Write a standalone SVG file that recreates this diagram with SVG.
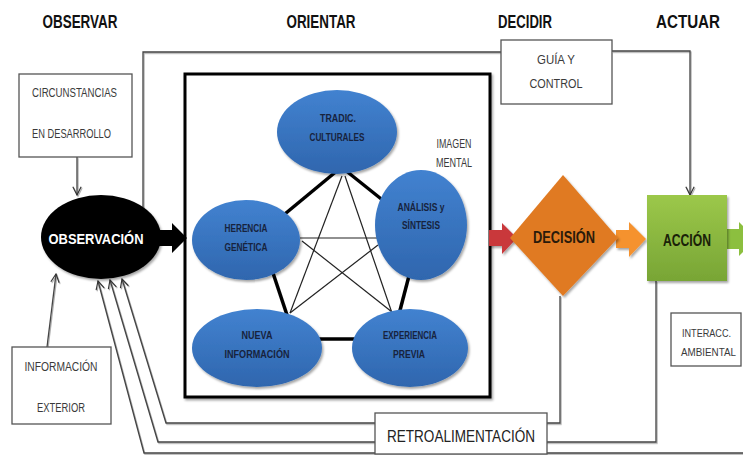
<svg xmlns="http://www.w3.org/2000/svg" width="743" height="455" viewBox="0 0 743 455">
<defs>
<style>
.title{font-family:"Liberation Sans",Arial,sans-serif;font-weight:bold;font-size:18px;fill:#111;text-anchor:middle}
.box{fill:#fff;stroke:#555;stroke-width:1.3}
.btxt{font-family:"Liberation Sans",Arial,sans-serif;font-size:12px;fill:#3a3a3a}
.stxt{font-family:"Liberation Sans",Arial,sans-serif;font-size:10.5px;fill:#3a3a3a}
.etxt{font-family:"Liberation Sans",Arial,sans-serif;font-weight:bold;font-size:11px;fill:#17233d;text-anchor:middle}
.conn{fill:none;stroke:#444;stroke-width:1.3}
.thick{stroke:#000;stroke-width:3.5;fill:none}
.thin{stroke:#222;stroke-width:1.2;fill:none}
.ell{fill:url(#blue);filter:url(#sh)}
</style>
<linearGradient id="blue" x1="0" y1="0" x2="0" y2="1">
<stop offset="0" stop-color="#4282d0"/>
<stop offset="1" stop-color="#2f66ae"/>
</linearGradient>
<linearGradient id="green" x1="0" y1="0" x2="0" y2="1">
<stop offset="0" stop-color="#9cc84a"/>
<stop offset="1" stop-color="#78a535"/>
</linearGradient>
<filter id="sh" x="-20%" y="-20%" width="140%" height="140%">
<feDropShadow dx="1.5" dy="2" stdDeviation="1.2" flood-color="#000" flood-opacity="0.35"/>
</filter>
<filter id="lsh" x="-5%" y="-5%" width="110%" height="110%">
<feDropShadow dx="1" dy="1.2" stdDeviation="0.3" flood-color="#777" flood-opacity="0.6"/>
</filter>
<marker id="arr" viewBox="0 0 12 12" refX="11" refY="6" markerWidth="10" markerHeight="10" markerUnits="userSpaceOnUse" orient="auto">
<path d="M1,1 L11,6 L1,11" fill="none" stroke="#333" stroke-width="1.4"/>
</marker>
</defs>

<g id="titles">
<text class="title" x="80" y="28" textLength="75" lengthAdjust="spacingAndGlyphs">OBSERVAR</text>
<text class="title" x="321" y="28" textLength="69" lengthAdjust="spacingAndGlyphs">ORIENTAR</text>
<text class="title" x="525" y="28" textLength="54" lengthAdjust="spacingAndGlyphs">DECIDIR</text>
<text class="title" x="688" y="28" textLength="64" lengthAdjust="spacingAndGlyphs">ACTUAR</text>
</g>

<g id="connectors" filter="url(#lsh)">
<path class="conn" d="M143,207 V52 H501"/>
<path class="conn" d="M612,51 H690 V195" marker-end="url(#arr)"/>
<path class="conn" d="M77,157 V195" marker-end="url(#arr)"/>
<path class="conn" d="M47,347 L56,274" marker-end="url(#arr)"/>
<path class="conn" d="M560,296 V423 H166 L122,279" marker-end="url(#arr)"/>
<path class="conn" d="M656,281 V442 H158 L110,280" marker-end="url(#arr)"/>
<path class="conn" d="M743,453 H144 L98,281" marker-end="url(#arr)"/>
</g>

<g id="orient-frame">
<rect x="185" y="74" width="305" height="323" fill="#fff" stroke="#000" stroke-width="3" filter="url(#sh)"/>
</g>

<g id="links">
<line class="thin" x1="342" y1="176" x2="290" y2="313"/>
<line class="thin" x1="345" y1="176" x2="392" y2="313"/>
<line class="thin" x1="300" y1="238" x2="377" y2="238"/>
<line class="thin" x1="302" y1="241" x2="392" y2="312"/>
<line class="thin" x1="378" y1="245" x2="290" y2="313"/>
<line class="thick" x1="338" y1="170" x2="280" y2="218"/>
<line class="thick" x1="345" y1="170" x2="385" y2="202"/>
<line class="thick" x1="272" y1="270" x2="288" y2="318"/>
<line class="thick" x1="410" y1="272" x2="398" y2="318"/>
<line class="thick" x1="315" y1="339" x2="358" y2="339"/>
</g>

<g id="n-tradic">
<ellipse class="ell" cx="337" cy="132" rx="60" ry="42"/>
<text class="etxt" x="338" y="122" textLength="36" lengthAdjust="spacingAndGlyphs">TRADIC.</text>
<text class="etxt" x="337" y="141" textLength="55" lengthAdjust="spacingAndGlyphs">CULTURALES</text>
</g>
<g id="n-herencia">
<ellipse class="ell" cx="246" cy="240" rx="54" ry="40"/>
<text class="etxt" x="246" y="232" textLength="43" lengthAdjust="spacingAndGlyphs">HERENCIA</text>
<text class="etxt" x="246" y="251" textLength="43" lengthAdjust="spacingAndGlyphs">GENÉTICA</text>
</g>
<g id="n-analisis">
<ellipse class="ell" cx="421" cy="225" rx="46" ry="55"/>
<text class="etxt" x="421" y="211" textLength="47" lengthAdjust="spacingAndGlyphs">ANÁLISIS y</text>
<text class="etxt" x="421" y="229" textLength="38" lengthAdjust="spacingAndGlyphs">SÍNTESIS</text>
</g>
<g id="n-nueva">
<ellipse class="ell" cx="257" cy="348" rx="65" ry="39"/>
<text class="etxt" x="257" y="339" textLength="31" lengthAdjust="spacingAndGlyphs">NUEVA</text>
<text class="etxt" x="257" y="358" textLength="65" lengthAdjust="spacingAndGlyphs">INFORMACIÓN</text>
</g>
<g id="n-experiencia">
<ellipse class="ell" cx="410" cy="348" rx="58" ry="39"/>
<text class="etxt" x="410" y="339" textLength="54" lengthAdjust="spacingAndGlyphs">EXPERIENCIA</text>
<text class="etxt" x="409" y="358" textLength="32" lengthAdjust="spacingAndGlyphs">PREVIA</text>
</g>

<g id="imagen-mental">
<text class="btxt" x="454" y="148" text-anchor="middle" textLength="35" lengthAdjust="spacingAndGlyphs">IMAGEN</text>
<text class="btxt" x="454" y="167" text-anchor="middle" textLength="36" lengthAdjust="spacingAndGlyphs">MENTAL</text>
</g>

<g id="n-circunstancias">
<rect class="box" x="19" y="74" width="113" height="83"/>
<text class="btxt" x="32" y="97" textLength="85" lengthAdjust="spacingAndGlyphs">CIRCUNSTANCIAS</text>
<text class="btxt" x="32" y="138" textLength="79" lengthAdjust="spacingAndGlyphs">EN DESARROLLO</text>
</g>

<g id="n-info">
<rect class="box" x="12" y="347" width="99" height="77"/>
<text class="btxt" x="61" y="371" text-anchor="middle" textLength="73" lengthAdjust="spacingAndGlyphs">INFORMACIÓN</text>
<text class="btxt" x="61" y="412" text-anchor="middle" textLength="48" lengthAdjust="spacingAndGlyphs">EXTERIOR</text>
</g>

<g id="n-guia">
<rect class="box" x="501" y="40" width="111" height="64"/>
<text class="btxt" x="556" y="64" text-anchor="middle" textLength="38" lengthAdjust="spacingAndGlyphs">GUÍA Y</text>
<text class="btxt" x="556" y="88" text-anchor="middle" textLength="53" lengthAdjust="spacingAndGlyphs">CONTROL</text>
</g>

<g id="n-interacc">
<rect class="box" x="671" y="313" width="70" height="53"/>
<text class="stxt" x="682" y="337" textLength="49" lengthAdjust="spacingAndGlyphs">INTERACC.</text>
<text class="stxt" x="681" y="356" textLength="55" lengthAdjust="spacingAndGlyphs">AMBIENTAL</text>
</g>

<g id="n-retro">
<rect class="box" x="375" y="413" width="172" height="41"/>
<text x="461" y="442" font-family="Liberation Sans, Arial, sans-serif" font-size="17" fill="#222" text-anchor="middle" textLength="148" lengthAdjust="spacingAndGlyphs">RETROALIMENTACIÓN</text>
</g>

<g id="n-observacion">
<ellipse cx="101" cy="237" rx="60" ry="42" fill="#000" filter="url(#sh)"/>
<polygon points="157,230 172,230 172,223 187,238 172,253 172,246 157,246" fill="#000"/>
<text x="96" y="244" font-family="Liberation Sans, Arial, sans-serif" font-weight="bold" font-size="15" fill="#fff" text-anchor="middle" textLength="95" lengthAdjust="spacingAndGlyphs">OBSERVACIÓN</text>
</g>

<g id="n-decision">
<polygon points="489,230 502,230 502,223 517,238 502,254 502,246 489,246" fill="#c9373a" filter="url(#sh)"/>
<polygon points="616,230 629,230 629,222 646,239 629,257 629,248 616,248" fill="#f5922f" filter="url(#sh)"/>
<polygon points="563,175 618,238 563,296 510,238" fill="#e07a22" filter="url(#sh)"/>
<text x="564" y="243" font-family="Liberation Sans, Arial, sans-serif" font-weight="bold" font-size="16" fill="#2a1a0a" text-anchor="middle" textLength="62" lengthAdjust="spacingAndGlyphs">DECISIÓN</text>
</g>

<g id="n-accion">
<polygon points="727,229 739,229 739,222 756,239 739,256 739,249 727,249" fill="#8cbf3f"/>
<rect x="647" y="195" width="80" height="86" fill="url(#green)" filter="url(#sh)"/>
<text x="687" y="246" font-family="Liberation Sans, Arial, sans-serif" font-weight="bold" font-size="17" fill="#1a2208" text-anchor="middle" textLength="48" lengthAdjust="spacingAndGlyphs">ACCIÓN</text>
</g>
</svg>
